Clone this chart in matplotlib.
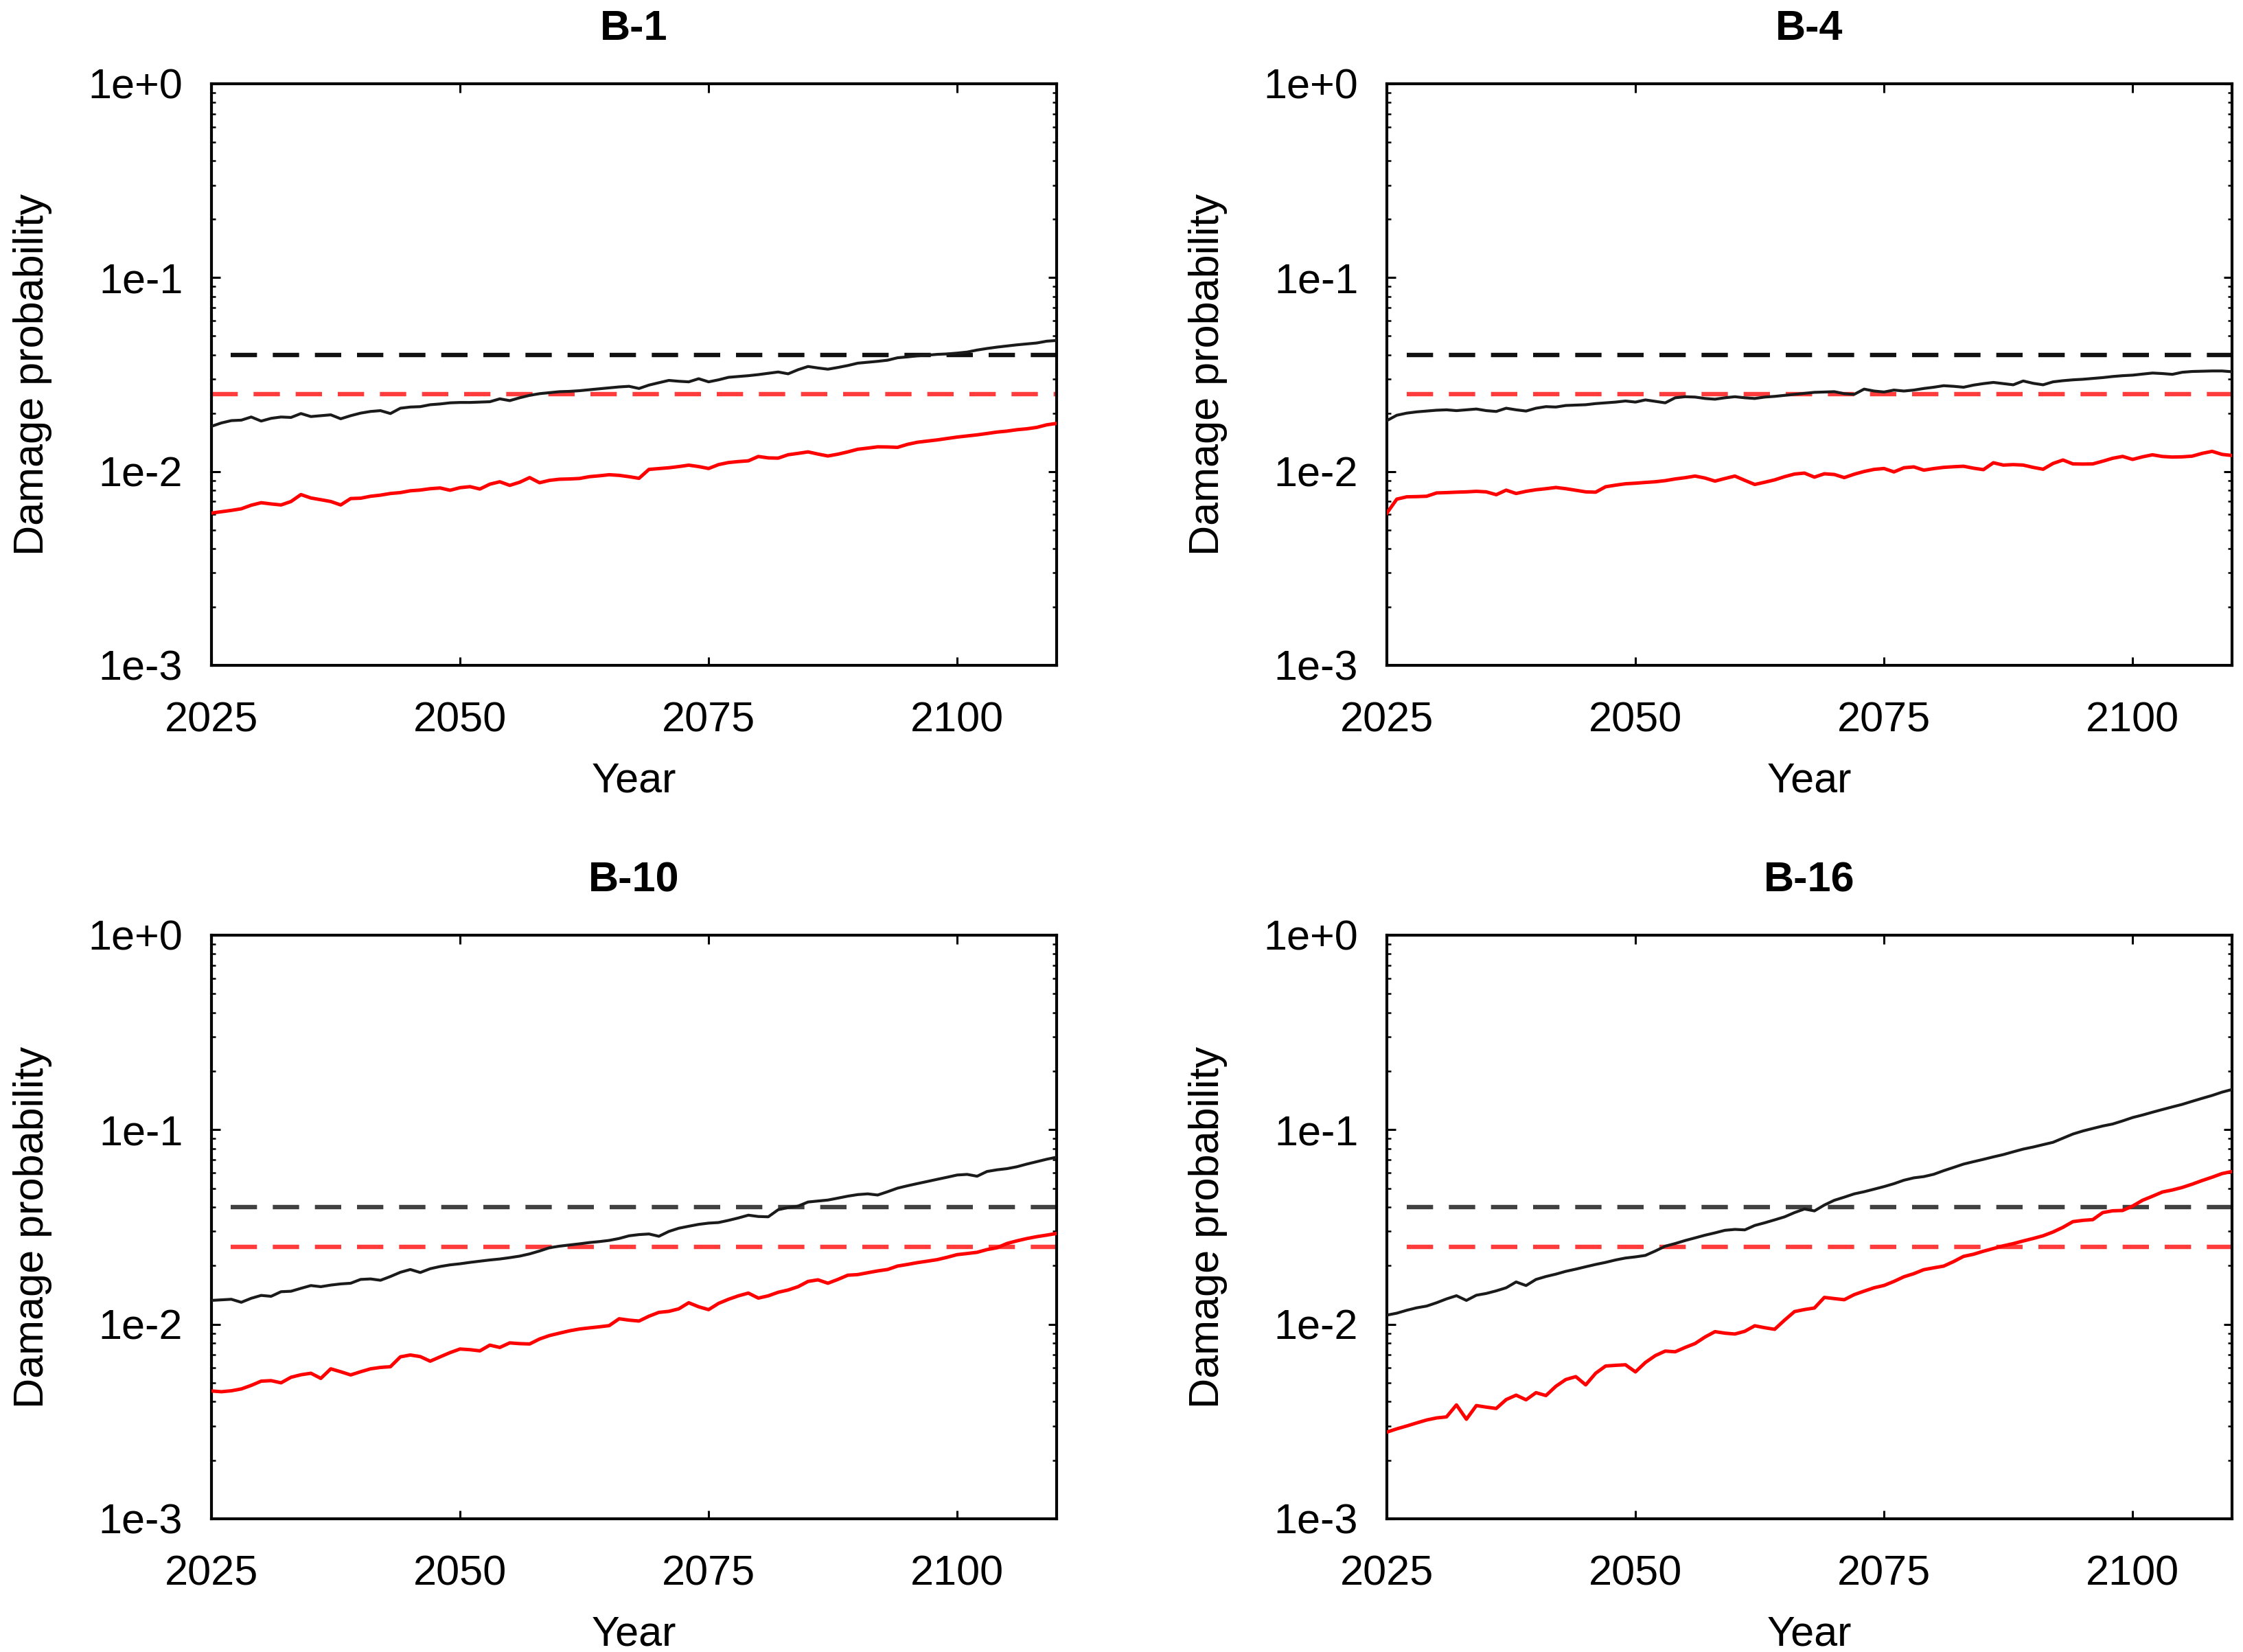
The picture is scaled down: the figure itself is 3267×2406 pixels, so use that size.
import numpy as np
import matplotlib
matplotlib.use("Agg")
import matplotlib.pyplot as plt
from matplotlib.ticker import LogLocator, FixedLocator, NullFormatter

plt.rcParams['font.family'] = ['Liberation Sans', 'DejaVu Sans']

# ---------------- data ----------------
titles = ["B-1", "B-4", "B-10", "B-16"]
year_start = 2025
x_ticks = [2025, 2050, 2075, 2100]
y_ticks = [1e-3, 1e-2, 1e-1, 1e0]
y_tick_labels = ["1e-3", "1e-2", "1e-1", "1e+0"]
threshold_black = 0.04
threshold_red = 0.025

b1_black = [0.0171, 0.0178, 0.0183, 0.0184, 0.0191, 0.0182, 0.0188, 0.0191, 0.0190, 0.0199,
            0.0192, 0.0194, 0.0196, 0.0187, 0.0194, 0.0200, 0.0204, 0.0206, 0.0199, 0.0212,
            0.0215, 0.0216, 0.0221, 0.0223, 0.0226, 0.0227, 0.0227, 0.0228, 0.0229, 0.0237,
            0.0232, 0.0240, 0.0247, 0.0252, 0.0255, 0.0258, 0.0259, 0.0261, 0.0264, 0.0267,
            0.0270, 0.0273, 0.0275, 0.0268, 0.0279, 0.0287, 0.0295, 0.0292, 0.0290, 0.0301,
            0.0290, 0.0297, 0.0306, 0.0309, 0.0312, 0.0316, 0.0321, 0.0326, 0.0319, 0.0335,
            0.0348, 0.0342, 0.0337, 0.0344, 0.0352, 0.0362, 0.0366, 0.0370, 0.0375, 0.0386,
            0.0390, 0.0395, 0.0398, 0.0402, 0.0404, 0.0408, 0.0413, 0.0423, 0.0431, 0.0438,
            0.0444, 0.0450, 0.0455, 0.0460, 0.0470, 0.0474]
b1_red = [0.00610, 0.00620, 0.00630, 0.00642, 0.00670, 0.00690, 0.00680, 0.00672, 0.00700, 0.00760,
          0.00730, 0.00715, 0.00700, 0.00672, 0.00725, 0.00728, 0.00745, 0.00755, 0.00770, 0.00778,
          0.00795, 0.00802, 0.00815, 0.00822, 0.00800, 0.00825, 0.00835, 0.00812, 0.00860, 0.00885,
          0.00848, 0.00880, 0.00930, 0.00875, 0.00900, 0.00912, 0.00915, 0.00920, 0.00940, 0.00950,
          0.00962, 0.00955, 0.00940, 0.00922, 0.01025, 0.01035, 0.01045, 0.01060, 0.01078, 0.01060,
          0.01036, 0.01085, 0.01112, 0.01125, 0.01135, 0.01195, 0.01175, 0.01172, 0.01220, 0.01240,
          0.01262, 0.01230, 0.01202, 0.01228, 0.01262, 0.01302, 0.01320, 0.01340, 0.01338, 0.01332,
          0.01380, 0.01415, 0.01435, 0.01455, 0.01480, 0.01505, 0.01525, 0.01545, 0.01570, 0.01597,
          0.01615, 0.01642, 0.01660, 0.01688, 0.01740, 0.01770]

b4_black = [0.0183, 0.0195, 0.0200, 0.0203, 0.0205, 0.0207, 0.0208, 0.0206, 0.0208, 0.0210,
            0.0206, 0.0204, 0.0212, 0.0208, 0.0205, 0.0212, 0.0216, 0.0215, 0.0219, 0.0220,
            0.0221, 0.0224, 0.0226, 0.0228, 0.0231, 0.0228, 0.0234, 0.0230, 0.0226, 0.0240,
            0.0243, 0.0242, 0.0238, 0.0236, 0.0240, 0.0243, 0.0240, 0.0238, 0.0242, 0.0244,
            0.0247, 0.0250, 0.0253, 0.0256, 0.0257, 0.0258, 0.0252, 0.0250, 0.0266, 0.0260,
            0.0257, 0.0263, 0.0260, 0.0263, 0.0268, 0.0272, 0.0277, 0.0275, 0.0272, 0.0279,
            0.0284, 0.0288, 0.0284, 0.0280, 0.0293, 0.0285, 0.0280, 0.0290, 0.0294, 0.0297,
            0.0299, 0.0302, 0.0305, 0.0309, 0.0312, 0.0314, 0.0318, 0.0322, 0.0320, 0.0317,
            0.0325, 0.0328, 0.0329, 0.0330, 0.0330, 0.0327]
b4_red = [0.00610, 0.00720, 0.00740, 0.00742, 0.00745, 0.00775, 0.00778, 0.00782, 0.00785, 0.00790,
          0.00785, 0.00759, 0.00801, 0.00770, 0.00790, 0.00805, 0.00815, 0.00827, 0.00815, 0.00800,
          0.00785, 0.00782, 0.00834, 0.00850, 0.00864, 0.00870, 0.00878, 0.00885, 0.00897, 0.00915,
          0.00929, 0.00947, 0.00925, 0.00892, 0.00920, 0.00947, 0.00900, 0.00857, 0.00880, 0.00905,
          0.00940, 0.00970, 0.00981, 0.00935, 0.00973, 0.00965, 0.00930, 0.00968, 0.01000, 0.01025,
          0.01036, 0.00995, 0.01045, 0.01056, 0.01016, 0.01035, 0.01050, 0.01058, 0.01064, 0.01040,
          0.01022, 0.01109, 0.01079, 0.01085, 0.01079, 0.01050, 0.01027, 0.01100, 0.01146, 0.01094,
          0.01092, 0.01094, 0.01130, 0.01170, 0.01196, 0.01154, 0.01190, 0.01219, 0.01195, 0.01187,
          0.01190, 0.01200, 0.01240, 0.01270, 0.01225, 0.01209]

b10_black = [0.01326, 0.01335, 0.01344, 0.01297, 0.01360, 0.01407, 0.01392, 0.01470, 0.01478, 0.01530,
             0.01581, 0.01560, 0.01590, 0.01612, 0.01625, 0.01700, 0.01710, 0.01683, 0.01760, 0.01850,
             0.01912, 0.01845, 0.01930, 0.01981, 0.02020, 0.02046, 0.02080, 0.02110, 0.02140, 0.02165,
             0.02200, 0.02240, 0.02300, 0.02380, 0.02474, 0.02520, 0.02555, 0.02590, 0.02630, 0.02660,
             0.02698, 0.02760, 0.02849, 0.02890, 0.02911, 0.02833, 0.03000, 0.03116, 0.03190, 0.03262,
             0.03310, 0.03334, 0.03420, 0.03520, 0.03637, 0.03580, 0.03567, 0.03880, 0.03980, 0.04050,
             0.04250, 0.04300, 0.04350, 0.04450, 0.04555, 0.04640, 0.04680, 0.04616, 0.04800, 0.05007,
             0.05150, 0.05286, 0.05420, 0.05560, 0.05700, 0.05850, 0.05893, 0.05767, 0.06100, 0.06221,
             0.06306, 0.06450, 0.06658, 0.06850, 0.07050, 0.07223]
b10_red = [0.00454, 0.00450, 0.00455, 0.00465, 0.00485, 0.00510, 0.00513, 0.00500, 0.00534, 0.00550,
           0.00560, 0.00527, 0.00590, 0.00570, 0.00549, 0.00570, 0.00590, 0.00600, 0.00605, 0.00680,
           0.00695, 0.00682, 0.00646, 0.00680, 0.00715, 0.00746, 0.00740, 0.00730, 0.00781, 0.00760,
           0.00802, 0.00795, 0.00792, 0.00840, 0.00875, 0.00900, 0.00925, 0.00945, 0.00958, 0.00970,
           0.00984, 0.01067, 0.01050, 0.01039, 0.01100, 0.01151, 0.01165, 0.01200, 0.01290, 0.01230,
           0.01189, 0.01280, 0.01344, 0.01400, 0.01446, 0.01363, 0.01400, 0.01460, 0.01500, 0.01560,
           0.01660, 0.01692, 0.01625, 0.01700, 0.01787, 0.01800, 0.01840, 0.01880, 0.01912, 0.01991,
           0.02030, 0.02074, 0.02110, 0.02149, 0.02210, 0.02280, 0.02310, 0.02343, 0.02420, 0.02473,
           0.02600, 0.02683, 0.02757, 0.02820, 0.02872, 0.02930]

b16_black = [0.01114, 0.01140, 0.01180, 0.01215, 0.01240, 0.01290, 0.01350, 0.01402, 0.01326, 0.01410,
             0.01440, 0.01485, 0.01540, 0.01650, 0.01581, 0.01700, 0.01760, 0.01810, 0.01871, 0.01920,
             0.01975, 0.02030, 0.02080, 0.02140, 0.02190, 0.02220, 0.02259, 0.02380, 0.02520, 0.02600,
             0.02694, 0.02780, 0.02870, 0.02950, 0.03040, 0.03073, 0.03056, 0.03220, 0.03323, 0.03440,
             0.03565, 0.03750, 0.03912, 0.03825, 0.04100, 0.04337, 0.04500, 0.04679, 0.04800, 0.04947,
             0.05100, 0.05279, 0.05500, 0.05657, 0.05741, 0.05900, 0.06157, 0.06400, 0.06657, 0.06850,
             0.07042, 0.07250, 0.07450, 0.07700, 0.07950, 0.08147, 0.08380, 0.08616, 0.09050, 0.09502,
             0.09850, 0.10150, 0.10450, 0.10700, 0.11100, 0.11550, 0.11900, 0.12300, 0.12700, 0.13100,
             0.13500, 0.14000, 0.14500, 0.15000, 0.15600, 0.16100]
b16_red = [0.00279, 0.00290, 0.00300, 0.00311, 0.00322, 0.00330, 0.00334, 0.00385, 0.00325, 0.00382,
           0.00375, 0.00369, 0.00410, 0.00432, 0.00409, 0.00445, 0.00430, 0.00480, 0.00520, 0.00538,
           0.00488, 0.00560, 0.00610, 0.00615, 0.00619, 0.00569, 0.00636, 0.00690, 0.00728, 0.00722,
           0.00760, 0.00796, 0.00860, 0.00916, 0.00900, 0.00891, 0.00920, 0.00982, 0.00960, 0.00942,
           0.01050, 0.01162, 0.01190, 0.01212, 0.01374, 0.01355, 0.01337, 0.01420, 0.01480, 0.01540,
           0.01583, 0.01660, 0.01754, 0.01820, 0.01908, 0.01950, 0.01990, 0.02100, 0.02233, 0.02290,
           0.02374, 0.02450, 0.02530, 0.02597, 0.02680, 0.02760, 0.02850, 0.02980, 0.03150, 0.03369,
           0.03420, 0.03450, 0.03750, 0.03830, 0.03845, 0.04050, 0.04337, 0.04550, 0.04784, 0.04900,
           0.05050, 0.05250, 0.05480, 0.05700, 0.05950, 0.06100]

black_series = [b1_black, b4_black, b10_black, b16_black]
red_series = [b1_red, b4_red, b10_red, b16_red]

# ---------------- layout / style ----------------
W, H = 3267, 2406
fig = plt.figure(figsize=(W / 100, H / 100), dpi=100)

axes_rects = [
    [308 / W, 1 - 969 / H, 1231 / W, 847 / H],
    [2020 / W, 1 - 969 / H, 1231 / W, 847 / H],
    [308 / W, 1 - 2212 / H, 1231 / W, 850 / H],
    [2020 / W, 1 - 2212 / H, 1231 / W, 850 / H],
]
dash_starts_black = [2026.9, 2027.0, 2026.9, 2027.0]
dash_starts_red = [2025.0, 2027.0, 2026.9, 2027.0]
dash_black_colors = ['#111111', '#111111', '#404040', '#404040']

FS = 44
for i, rect in enumerate(axes_rects):
    ax = fig.add_axes(rect)
    yb = np.array(black_series[i])
    yr = np.array(red_series[i])
    xb = year_start + np.arange(len(yb))
    xr = year_start + np.arange(len(yr))

    ax.hlines(threshold_black, dash_starts_black[i], 2110, colors=dash_black_colors[i],
              linewidth=4.6, linestyles=(0, (6.0, 3.6)), zorder=2)
    ax.hlines(threshold_red, dash_starts_red[i], 2110, colors='#ff3b3b',
              linewidth=4.6, linestyles=(0, (6.0, 3.6)), zorder=2)
    ax.plot(xb, yb, color='#1a1a1a', linewidth=3.0, zorder=3)
    ax.plot(xr, yr, color='#ff0000', linewidth=3.6, zorder=3)

    ax.set_yscale('log')
    ax.set_xlim(2025, 2110)
    ax.set_ylim(1e-3, 1e0)
    ax.xaxis.set_major_locator(FixedLocator(x_ticks))
    ax.set_xticklabels([str(t) for t in x_ticks])
    ax.yaxis.set_major_locator(FixedLocator(y_ticks))
    ax.set_yticklabels(y_tick_labels)
    ax.yaxis.set_minor_locator(LogLocator(base=10, subs=np.arange(2, 10), numticks=20))
    ax.yaxis.set_minor_formatter(NullFormatter())

    for sp in ax.spines.values():
        sp.set_linewidth(3.0)
    ax.tick_params(axis='both', which='major', direction='in', length=9, width=2.2,
                   top=True, right=True, labelsize=FS, color='#000000')
    ax.tick_params(axis='y', which='minor', direction='in', length=4.5, width=1.8,
                   left=True, right=True)
    ax.tick_params(axis='x', which='major', pad=38)
    ax.tick_params(axis='y', which='major', pad=30)

    ax.set_xlabel("Year", fontsize=FS, labelpad=22)
    ax.set_ylabel("Damage probability", fontsize=FS, labelpad=38)
    ax.set_title(titles[i], fontsize=FS, fontweight='bold', pad=46)

fig.savefig("out.png", dpi=100)
